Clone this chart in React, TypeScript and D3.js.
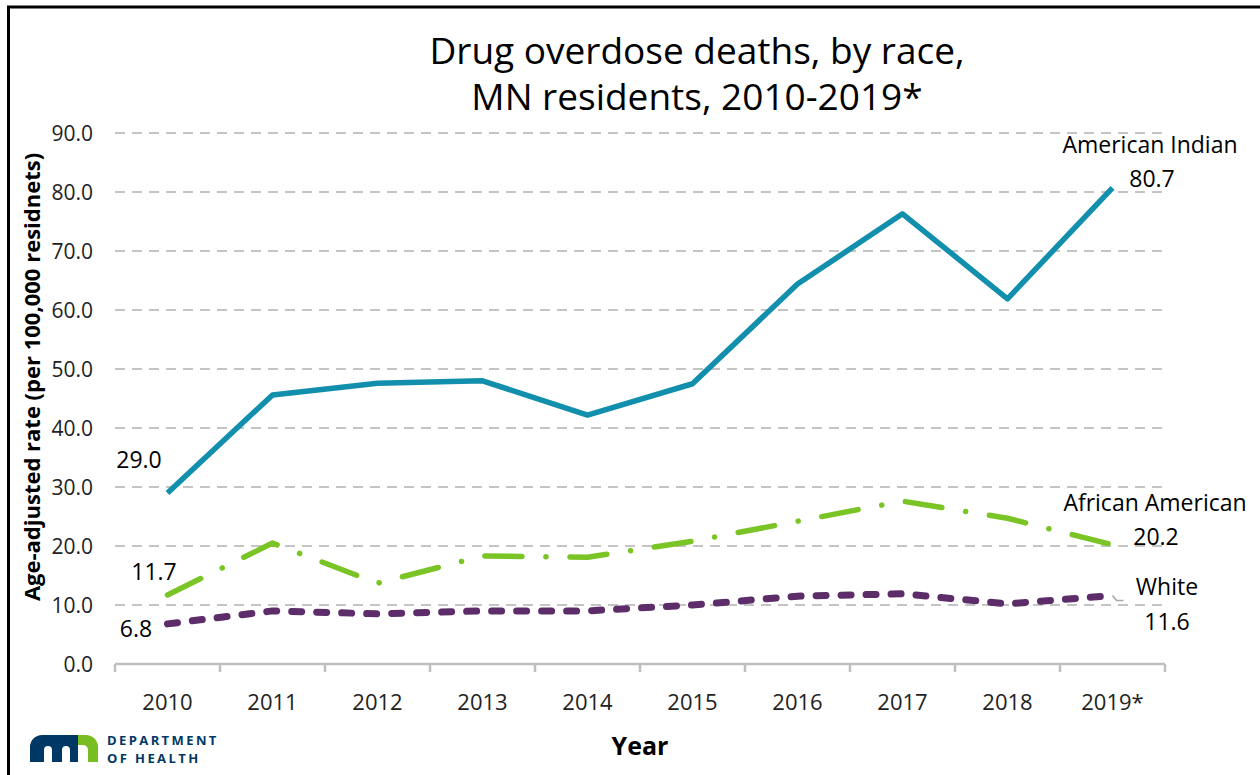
import { useMemo } from "react";
import * as d3 from "d3";

const years = ["2010", "2011", "2012", "2013", "2014", "2015", "2016", "2017", "2018", "2019*"];
const americanIndian = [29.0, 45.6, 47.6, 48.0, 42.2, 47.5, 64.4, 76.3, 61.9, 80.7];
const africanAmerican = [11.7, 20.5, 13.7, 18.3, 18.1, 20.8, 24.2, 27.6, 24.7, 20.2];
const white = [6.8, 9.0, 8.5, 9.0, 9.0, 10.0, 11.5, 11.9, 10.2, 11.6];
const yTicks = [0, 10, 20, 30, 40, 50, 60, 70, 80, 90];

const FONT = "'Open Sans', 'Noto Sans', sans-serif";

const width = 1260;
const height = 775;
const margin = { top: 133, right: 95, bottom: 111, left: 115 };

type Series = {
  name: string;
  values: number[];
  color: string;
  strokeWidth: number;
  dash?: string;
};

const series: Series[] = [
  { name: "American Indian", values: americanIndian, color: "#118fad", strokeWidth: 5.5 },
  { name: "African American", values: africanAmerican, color: "#7ac425", strokeWidth: 5.5, dash: "37 24 0.1 24" },
  { name: "White", values: white, color: "#5c2d69", strokeWidth: 7, dash: "10 15" },
];

export default function App() {
  const xScale = useMemo(
    () => d3.scaleBand().domain(years).range([margin.left, width - margin.right]).padding(0),
    []
  );
  const yScale = useMemo(
    () => d3.scaleLinear().domain([0, 90]).range([height - margin.bottom, margin.top]),
    []
  );
  const cx = (i: number) => (xScale(years[i]) as number) + xScale.bandwidth() / 2;

  const line = d3
    .line<number>()
    .x((_, i) => cx(i))
    .y((d) => yScale(d));

  const x0 = margin.left;
  const x1 = width - margin.right;
  const yBase = yScale(0);
  const last = years.length - 1;

  // data labels, placed the way the original chart has them
  const fmt = d3.format(".1f");

  return (
    <div style={{ position: "fixed", left: 0, top: 0 }}>
      <svg width={width} height={height} style={{ display: "block", background: "#fff" }}>
        {/* frame */}
        <path d={`M8.5,${height} V7 H${width}`} fill="none" stroke="#000" strokeWidth={3} />

        {/* title */}
        <text x={697} y={64} textAnchor="middle" fontFamily={FONT} fontSize={37} fill="#000">
          Drug overdose deaths, by race,
        </text>
        <text x={697} y={110} textAnchor="middle" fontFamily={FONT} fontSize={37} fill="#000">
          MN residents, 2010-2019*
        </text>

        {/* grid */}
        {yTicks.filter((t) => t > 0).map((t) => (
          <line
            key={t}
            x1={x0}
            x2={x1}
            y1={yScale(t)}
            y2={yScale(t)}
            stroke="#c4c4c4"
            strokeWidth={2}
            strokeDasharray="10 7"
          />
        ))}

        {/* y tick labels */}
        {yTicks.map((t) => (
          <text
            key={t}
            x={93}
            y={yScale(t)}
            dy="0.36em"
            textAnchor="end"
            fontFamily={FONT}
            fontSize={21}
            fill="#222"
          >
            {fmt(t)}
          </text>
        ))}

        {/* x axis */}
        <line x1={x0} x2={x1} y1={yBase} y2={yBase} stroke="#bfbfbf" strokeWidth={2.5} />
        {years.map((y) => (
          <line
            key={y}
            x1={xScale(y)}
            x2={xScale(y)}
            y1={yBase}
            y2={yBase + 8}
            stroke="#bfbfbf"
            strokeWidth={2.5}
          />
        ))}
        <line x1={x1} x2={x1} y1={yBase} y2={yBase + 8} stroke="#bfbfbf" strokeWidth={2.5} />
        {years.map((y, i) => (
          <text
            key={y}
            x={cx(i)}
            y={710}
            textAnchor="middle"
            fontFamily={FONT}
            fontSize={22}
            fill="#222"
          >
            {y}
          </text>
        ))}

        {/* axis titles */}
        <text
          transform="translate(40,377) rotate(-90)"
          textAnchor="middle"
          fontFamily={FONT}
          fontSize={22}
          fontWeight="bold"
          fill="#000"
        >
          Age-adjusted rate (per 100,000 residnets)
        </text>
        <text x={640} y={755} textAnchor="middle" fontFamily={FONT} fontSize={25} fontWeight="bold" fill="#000">
          Year
        </text>

        {/* lines */}
        {series
          .slice()
          .reverse()
          .map((s) => (
            <path
              key={s.name}
              d={line(s.values) ?? ""}
              fill="none"
              stroke={s.color}
              strokeWidth={s.strokeWidth}
              strokeDasharray={s.dash}
              strokeLinecap={s.dash ? "round" : "butt"}
              strokeLinejoin="round"
            />
          ))}

        {/* leader for White label */}
        <path
          d={`M${cx(last)},${yScale(white[last])} L${cx(last) + 4},${yScale(white[last]) + 5} H${cx(last) + 11}`}
          fill="none"
          stroke="#a6a6a6"
          strokeWidth={1.5}
        />

        {/* data labels */}
        <g fontFamily={FONT} fontSize={23} fill="#000" textAnchor="middle">
          <text x={139} y={468}>{fmt(americanIndian[0])}</text>
          <text x={154} y={580}>{fmt(africanAmerican[0])}</text>
          <text x={136} y={637}>{fmt(white[0])}</text>
          <text x={1150} y={153}>American Indian</text>
          <text x={1152} y={187}>{fmt(americanIndian[last])}</text>
          <text x={1155} y={511}>African American</text>
          <text x={1156} y={545}>{fmt(africanAmerican[last])}</text>
          <text x={1167} y={595}>White</text>
          <text x={1167} y={630}>{fmt(white[last])}</text>
        </g>

        {/* logo */}
        <g>
          <path d="M30,762 V747 A12,12 0 0 1 42,735 H78 V762 H70 V750 A4,4 0 0 0 62,750 V762 H52 V750 A4,4 0 0 0 44,750 V762 Z" fill="#003865" />
          <path d="M74,735 H86 A12,12 0 0 1 98,747 V762 H88 V750 A5,5 0 0 0 83,745 H78 V735 Z" fill="#78be20" />
          <text x={107} y={745} fontFamily={FONT} fontSize={13} fontWeight="bold" fill="#003865" letterSpacing={2.4}>
            DEPARTMENT
          </text>
          <text x={107} y={763} fontFamily={FONT} fontSize={13} fontWeight="bold" fill="#003865" letterSpacing={2.4}>
            OF HEALTH
          </text>
        </g>
      </svg>
    </div>
  );
}
